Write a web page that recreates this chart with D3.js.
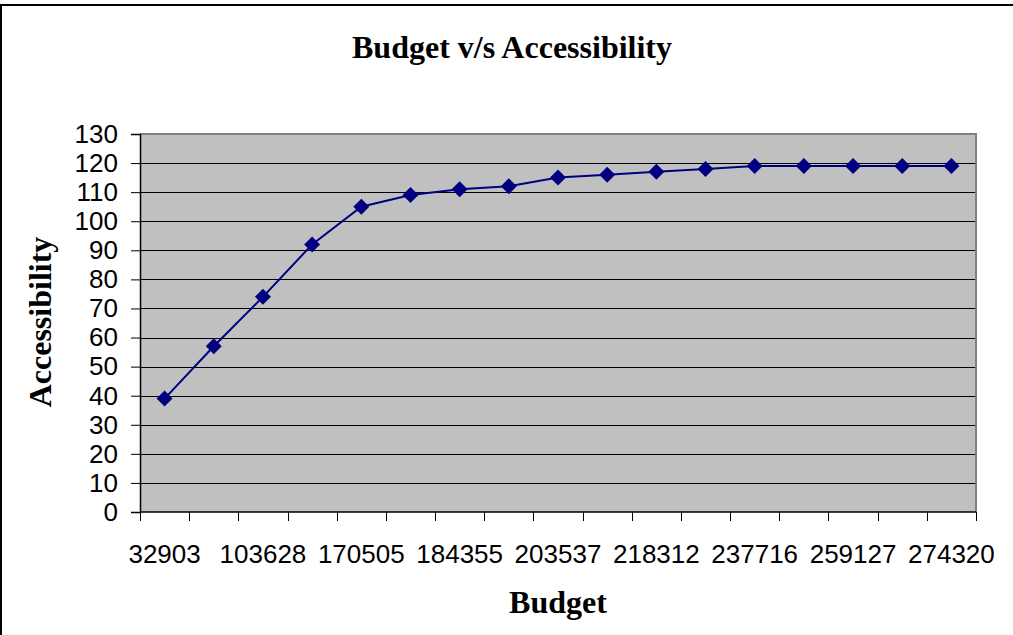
<!DOCTYPE html>
<html>
<head>
<meta charset="utf-8">
<script src="https://cdn.jsdelivr.net/npm/d3@7"></script>
<style>
  body { margin: 0; background: #fff; }
  .tick text { font-family: "Liberation Sans", Arial, sans-serif; font-size: 26px; fill: #000; }
  .title { font-family: "Liberation Serif", "Times New Roman", serif; font-weight: bold; font-size: 32px; }
</style>
</head>
<body>
<svg id="chart" width="1013" height="635"></svg>
<script>
// values, one per point (17 points)
const accessibility = [39, 57, 74, 92, 105, 109, 111, 112, 115, 116, 117, 118, 119, 119, 119, 119, 119];
// only every other budget is labelled on the axis
const budgetLabels = ["32903", "103628", "170505", "184355", "203537", "218312", "237716", "259127", "274320"];
const yTicks = [0, 10, 20, 30, 40, 50, 60, 70, 80, 90, 100, 110, 120, 130];

const plotLeft = 140, plotRight = 976, plotTop = 134, plotBottom = 512;
const svg = d3.select("#chart");

// outer frame (bleeds off right and bottom)
svg.append("rect")
    .attr("x", 1).attr("y", 5)
    .attr("width", 1040).attr("height", 700)
    .attr("fill", "#fff").attr("stroke", "#000").attr("stroke-width", 2);

let xScale = d3.scaleBand().domain(d3.range(accessibility.length)).range([plotLeft, plotRight])
let yScale = d3.scaleLinear().domain([0, 130]).range([plotBottom, plotTop])

// plot area
svg.append("rect")
    .attr("x", plotLeft).attr("y", plotTop)
    .attr("width", plotRight - plotLeft).attr("height", plotBottom - plotTop)
    .attr("fill", "#c0c0c0");

// gridlines
svg.append("g")
    .selectAll("line")
    .data(yTicks.filter(d => d > 0 && d < 130))
    .enter().append("line")
    .attr("x1", plotLeft).attr("x2", plotRight)
    .attr("y1", d => Math.round(yScale(d)) + 0.5)
    .attr("y2", d => Math.round(yScale(d)) + 0.5)
    .attr("stroke", "#000").attr("stroke-width", 1);

// gray top/right border
svg.append("path")
    .attr("d", `M${plotLeft},${plotTop}H${plotRight}V${plotBottom}`)
    .attr("fill", "none").attr("stroke", "#808080").attr("stroke-width", 2);

// Y axis
let yAxis = svg.append("g")
    .attr("transform", `translate(${plotLeft},0)`)
    .call(d3.axisLeft(yScale).tickValues(yTicks).tickSize(9).tickPadding(13))
yAxis.select(".domain").attr("stroke", "#000").attr("stroke-width", 1.5);
yAxis.selectAll(".tick line").attr("stroke", "#000");

// X axis: tick marks at category boundaries
let xg = svg.append("g");
xg.append("line")
    .attr("x1", plotLeft).attr("x2", plotRight)
    .attr("y1", plotBottom).attr("y2", plotBottom)
    .attr("stroke", "#000").attr("stroke-width", 1.5);
xg.selectAll(".xtick")
    .data(d3.range(accessibility.length + 1))
    .enter().append("line")
    .attr("x1", i => Math.round(plotLeft + i * xScale.step()) + 0.5)
    .attr("x2", i => Math.round(plotLeft + i * xScale.step()) + 0.5)
    .attr("y1", plotBottom).attr("y2", plotBottom + 9)
    .attr("stroke", "#000");
xg.selectAll(".xlabel")
    .data(budgetLabels)
    .enter().append("text")
    .attr("x", (d, i) => xScale(i * 2) + xScale.bandwidth() / 2)
    .attr("y", 563)
    .attr("text-anchor", "middle")
    .style("font-family", "'Liberation Sans', Arial, sans-serif")
    .style("font-size", "26px")
    .text(d => d);

// line
let line = d3.line()
    .x((d, i) => xScale(i) + xScale.bandwidth() / 2)
    .y(d => yScale(d));
svg.append("path")
    .datum(accessibility)
    .attr("d", line)
    .attr("fill", "none").attr("stroke", "#000080").attr("stroke-width", 2);

// diamond markers
svg.selectAll(".marker")
    .data(accessibility)
    .enter().append("path")
    .attr("transform", (d, i) => `translate(${xScale(i) + xScale.bandwidth() / 2},${yScale(d)})`)
    .attr("d", "M0,-8L8,0L0,8L-8,0Z")
    .attr("fill", "#000080");

// Title and labels
svg.append("text").attr("class", "title")
    .attr("x", 512).attr("y", 58)
    .attr("text-anchor", "middle")
    .text("Budget v/s Accessibility");

svg.append("text").attr("class", "title")
    .attr("x", 558).attr("y", 613)
    .attr("text-anchor", "middle")
    .text("Budget");

svg.append("text").attr("class", "title")
    .attr("transform", `translate(51,322) rotate(-90)`)
    .attr("text-anchor", "middle")
    .text("Accessibility");
</script>
</body>
</html>
